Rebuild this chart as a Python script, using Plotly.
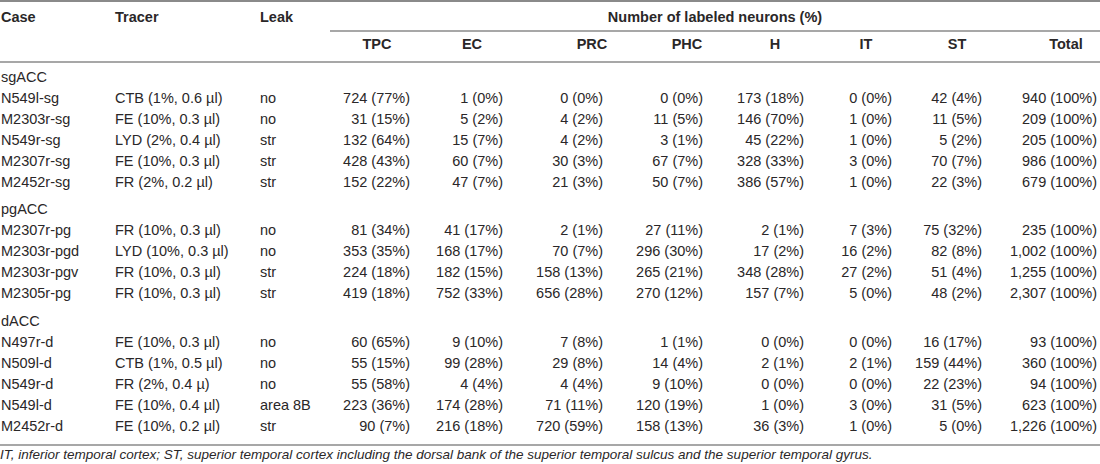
import plotly.graph_objects as go

groups = ["sgACC"] * 5 + ["pgACC"] * 4 + ["dACC"] * 5
cases = ["N549l-sg", "M2303r-sg", "N549r-sg", "M2307r-sg", "M2452r-sg",
         "M2307r-pg", "M2303r-pgd", "M2303r-pgv", "M2305r-pg",
         "N497r-d", "N509l-d", "N549r-d", "N549l-d", "M2452r-d"]
tracers = ["CTB (1%, 0.6 µl)", "FE (10%, 0.3 µl)", "LYD (2%, 0.4 µl)", "FE (10%, 0.3 µl)", "FR (2%, 0.2 µl)",
           "FR (10%, 0.3 µl)", "LYD (10%, 0.3 µl)", "FR (10%, 0.3 µl)", "FR (10%, 0.3 µl)",
           "FE (10%, 0.3 µl)", "CTB (1%, 0.5 µl)", "FR (2%, 0.4 µ)", "FE (10%, 0.4 µl)", "FE (10%, 0.2 µl)"]
leaks = ["no", "no", "str", "str", "str",
         "no", "no", "str", "str",
         "no", "no", "no", "area 8B", "str"]

tpc_n = [724, 31, 132, 428, 152, 81, 353, 224, 419, 60, 55, 55, 223, 90]
tpc_pct = [77, 15, 64, 43, 22, 34, 35, 18, 18, 65, 15, 58, 36, 7]
ec_n = [1, 5, 15, 60, 47, 41, 168, 182, 752, 9, 99, 4, 174, 216]
ec_pct = [0, 2, 7, 7, 7, 17, 17, 15, 33, 10, 28, 4, 28, 18]
prc_n = [0, 4, 4, 30, 21, 2, 70, 158, 656, 7, 29, 4, 71, 720]
prc_pct = [0, 2, 2, 3, 3, 1, 7, 13, 28, 8, 8, 4, 11, 59]
phc_n = [0, 11, 3, 67, 50, 27, 296, 265, 270, 1, 14, 9, 120, 158]
phc_pct = [0, 5, 1, 7, 7, 11, 30, 21, 12, 1, 4, 10, 19, 13]
h_n = [173, 146, 45, 328, 386, 2, 17, 348, 157, 0, 2, 0, 1, 36]
h_pct = [18, 70, 22, 33, 57, 1, 2, 28, 7, 0, 1, 0, 0, 3]
it_n = [0, 1, 1, 3, 1, 7, 16, 27, 5, 0, 2, 0, 3, 1]
it_pct = [0, 0, 0, 0, 0, 3, 2, 2, 0, 0, 1, 0, 0, 0]
st_n = [42, 11, 5, 70, 22, 75, 82, 51, 48, 16, 159, 22, 31, 5]
st_pct = [4, 5, 2, 7, 3, 32, 8, 4, 2, 17, 44, 23, 5, 0]
total_n = [940, 209, 205, 986, 679, 235, 1002, 1255, 2307, 93, 360, 94, 623, 1226]
total_pct = [100] * 14

region_labels = ["TPC", "EC", "PRC", "PHC", "H", "IT", "ST", "Total"]
region_counts = [tpc_n, ec_n, prc_n, phc_n, h_n, it_n, st_n, total_n]
region_pcts = [tpc_pct, ec_pct, prc_pct, phc_pct, h_pct, it_pct, st_pct, total_pct]

footnote = ("IT, inferior temporal cortex; ST, superior temporal cortex including the dorsal bank "
            "of the superior temporal sulcus and the superior temporal gyrus.")

# ---- table geometry (pixels) ----
W, H = 1100, 464
FONT = "Liberation Sans, Arial, Helvetica, sans-serif"
SIZE = 14.5
INK = "#2a2728"
RULE = "#8a8a8a"

ROW = 21.0      # line pitch inside a group
GAP = 27.5      # pitch from last row of a group to next group label
Y_FIRST = 78.0  # first group label
Y_HEAD1, Y_HEAD2 = 18, 45
Y_TOP, Y_SUB, Y_MID, Y_BOT, Y_NOTE = 1, 31, 62, 445, 456

x_case, x_tracer, x_leak = 1, 115, 260
x_sub_start = 330
x_num_right = [410, 503, 603, 703, 804, 892, 982, 1097]
x_num_head = [377, 472, 592, 687, 775, 866, 957, 1066]

# y of every line: group label, then its rows
row_y, group_y, group_names = [], [], []
y = Y_FIRST
prev = None
for g in groups:
    if g != prev:
        if prev is not None:
            y += GAP - ROW
        group_y.append(y)
        group_names.append(g)
        y += ROW
        prev = g
    row_y.append(y)
    y += ROW

fig = go.Figure()


def text_col(xs, ys, texts, pos, bold=False, italic=False, size=SIZE):
    if bold:
        texts = [f"<b>{t}</b>" for t in texts]
    if italic:
        texts = [f"<i>{t}</i>" for t in texts]
    fig.add_trace(go.Scatter(
        x=xs, y=ys, text=texts, mode="text", textposition=pos,
        textfont=dict(family=FONT, size=size, color=INK),
        hoverinfo="skip", showlegend=False, cliponaxis=False,
    ))


# header
text_col([x_case, x_tracer, x_leak], [Y_HEAD1] * 3, ["Case", "Tracer", "Leak"], "middle right", bold=True)
text_col([(x_sub_start + W) / 2], [Y_HEAD1], ["Number of labeled neurons (%)"], "middle center", bold=True)
text_col(x_num_head, [Y_HEAD2] * len(region_labels), region_labels, "middle center", bold=True)

# group labels
text_col([x_case] * len(group_names), group_y, group_names, "middle right")

# body
text_col([x_case] * len(cases), row_y, cases, "middle right")
text_col([x_tracer] * len(cases), row_y, tracers, "middle right")
text_col([x_leak] * len(cases), row_y, leaks, "middle right")
for xr, counts, pcts in zip(x_num_right, region_counts, region_pcts):
    cells = [f"{n:,} ({p}%)" for n, p in zip(counts, pcts)]
    text_col([xr] * len(cells), row_y, cells, "middle left")

# footnote
text_col([0], [Y_NOTE], [footnote], "middle right", italic=True, size=13.5)

# rules
for y0, x0, wd in [(Y_TOP, 0, 2), (Y_SUB, x_sub_start, 1.5), (Y_MID, 0, 1.5), (Y_BOT, 0, 1.5)]:
    fig.add_shape(type="line", x0=x0, x1=W, y0=y0, y1=y0, xref="x", yref="y",
                  line=dict(color=RULE, width=wd))

fig.update_xaxes(range=[0, W], visible=False, fixedrange=True)
fig.update_yaxes(range=[H, 0], visible=False, fixedrange=True)
fig.update_layout(
    width=W, height=H,
    margin=dict(l=0, r=0, t=0, b=0),
    plot_bgcolor="white", paper_bgcolor="white",
)

fig.write_html("out.html", config={"displayModeBar": False},
               post_script="document.body.style.margin='0';")
